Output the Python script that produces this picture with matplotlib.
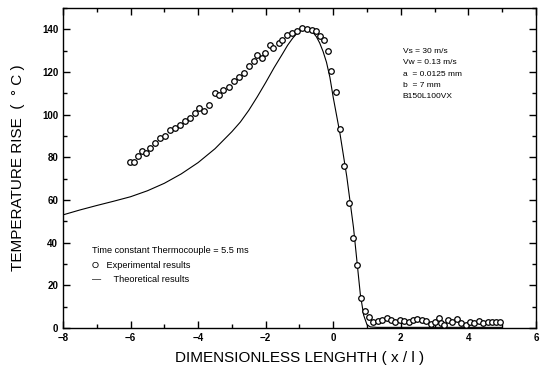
import numpy as np
import matplotlib
matplotlib.use("Agg")
import matplotlib.pyplot as plt
from matplotlib.ticker import MultipleLocator

# experimental points
exp_x = [-6.03, -5.91, -5.78, -5.66, -5.53, -5.41, -5.27, -5.12, -4.97, -4.82,
         -4.67, -4.53, -4.38, -4.23, -4.08, -3.98, -3.84, -3.69, -3.49, -3.39,
         -3.25, -3.10, -2.95, -2.80, -2.65, -2.50, -2.36, -2.26, -2.11, -2.01,
         -1.86, -1.77, -1.62, -1.52, -1.37, -1.22, -1.07, -0.93, -0.78, -0.63,
         -0.50, -0.38, -0.27, -0.17, -0.06, 0.08, 0.21, 0.33, 0.47, 0.57,
         0.70, 0.82, 0.93, 1.06, 1.19, 1.32, 1.45, 1.58, 1.71, 1.84,
         1.97, 2.10, 2.23, 2.36, 2.49, 2.62, 2.75, 2.88, 3.01, 3.14,
         3.20, 3.27, 3.40, 3.53, 3.66, 3.79, 3.92, 4.05, 4.18, 4.31,
         4.44, 4.57, 4.70, 4.83, 4.95]
exp_y = [77.6, 78.0, 80.4, 82.7, 82.0, 84.3, 86.7, 89.0, 89.8, 92.9,
         93.7, 95.3, 96.8, 98.4, 100.7, 103.0, 101.5, 104.6, 110.0, 109.0,
         111.7, 113.0, 115.6, 117.5, 119.5, 122.6, 125.0, 128.0, 126.6, 129.0,
         132.8, 131.3, 133.6, 135.0, 137.5, 138.3, 139.0, 140.6, 140.1, 139.5,
         139.0, 136.7, 134.8, 129.7, 120.6, 110.4, 93.3, 76.0, 58.8, 42.0,
         29.5, 13.9, 8.1, 5.3, 3.0, 3.4, 3.6, 4.6, 3.8, 2.6,
         3.6, 3.3, 2.8, 3.9, 4.2, 3.6, 3.1, 2.0, 2.6, 4.6,
         2.3, 1.5, 3.7, 3.0, 4.0, 2.4, 1.5, 2.8, 2.2, 3.5,
         2.4, 3.0, 2.6, 2.8, 2.7]

# theoretical curve
th_x = [-8.0, -7.5, -7.0, -6.5, -6.0, -5.5, -5.0, -4.5, -4.0, -3.5,
        -3.0, -2.75, -2.5, -2.25, -2.0, -1.75, -1.5, -1.35, -1.2, -1.05,
        -0.9, -0.75, -0.6, -0.5, -0.4, -0.3, -0.2, -0.1, 0.0, 0.2,
        0.4, 0.6, 0.8, 0.9, 1.0, 1.1, 1.3, 5.0]
th_y = [53.0, 55.3, 57.4, 59.4, 61.5, 64.3, 67.8, 72.2, 77.5, 84.0,
        92.0, 96.5, 102.0, 108.3, 115.0, 122.0, 128.5, 132.5, 135.8, 138.5,
        140.0, 139.8, 138.5, 136.5, 133.5, 129.5, 124.5, 117.5, 108.0, 91.0,
        71.0, 47.0, 16.0, 6.0, 1.5, 0.5, 0.3, 0.3]

params = ["Vs = 30 m/s", "Vw = 0.13 m/s", "a  = 0.0125 mm", "b  = 7 mm", "B150L100VX"]

plt.rcParams['font.family'] = ['Liberation Sans', 'DejaVu Sans']

fig = plt.figure(figsize=(5.43, 3.74), dpi=100)
ax = fig.add_axes([0.116, 0.123, 0.871, 0.856])

ax.plot(th_x, th_y, color='black', lw=0.8)
ax.plot(exp_x, exp_y, 'o', ms=4, mfc='white', mec='black', mew=0.9, ls='none')

ax.set_xlim(-8, 6)
ax.set_ylim(0, 150)
ax.xaxis.set_major_locator(MultipleLocator(2))
ax.xaxis.set_minor_locator(MultipleLocator(1))
ax.yaxis.set_major_locator(MultipleLocator(20))
ax.yaxis.set_minor_locator(MultipleLocator(10))
ax.tick_params(which='both', direction='in', top=True, right=True, width=1.0)
ax.tick_params(which='major', length=5, labelsize=7)
ax.tick_params(which='minor', length=3)
for lab in ax.get_xticklabels() + ax.get_yticklabels():
    lab.set_fontweight('bold')
for s in ax.spines.values():
    s.set_linewidth(1.0)

ax.set_xlabel("DIMENSIONLESS LENGHTH ( x / l )", fontsize=11, labelpad=6)
ax.set_ylabel("TEMPERATURE RISE  (  \u00b0 C )", fontsize=11, labelpad=12)

for i, t in enumerate(params):
    ax.text(2.05, 129.5 - i * 5.3, t, fontsize=6, va='center')

ax.text(-7.15, 36.5, "Time constant Thermocouple = 5.5 ms", fontsize=6.6, va='center')
ax.text(-7.15, 29.5, "O   Experimental results", fontsize=6.6, va='center')
ax.text(-7.15, 22.7, "\u2014     Theoretical results", fontsize=6.6, va='center')

fig.savefig("out.png", dpi=100)
